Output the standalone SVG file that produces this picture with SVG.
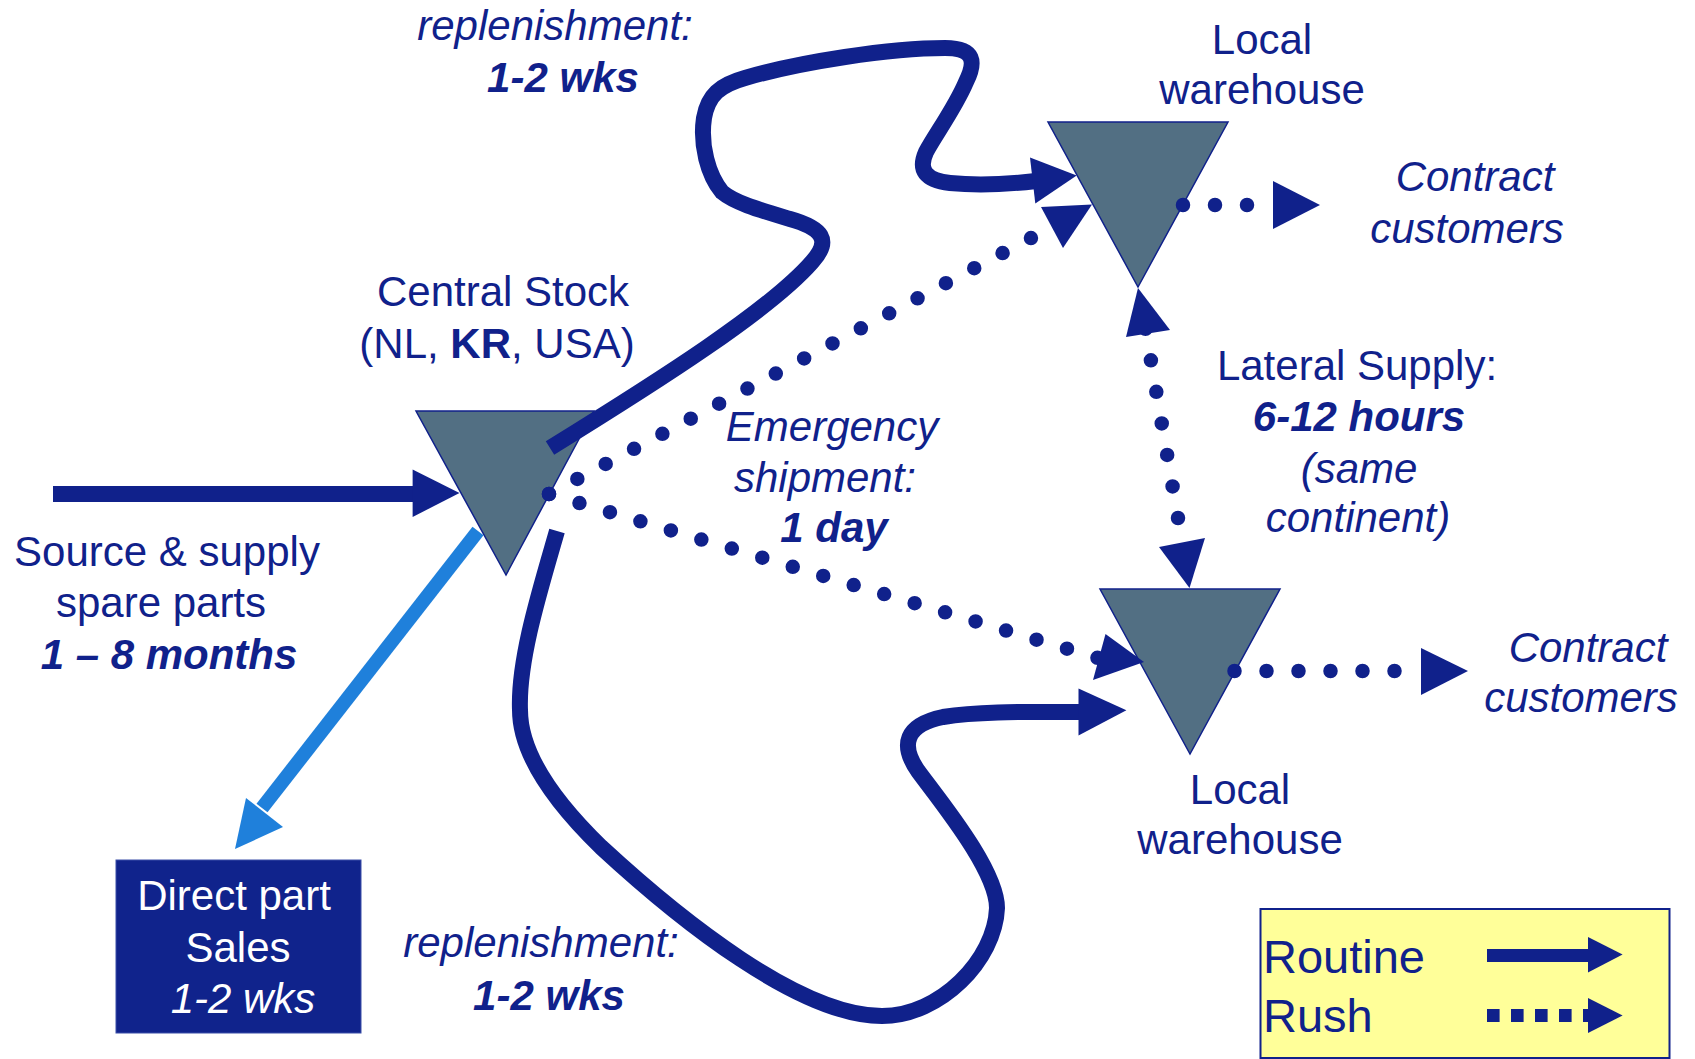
<svg xmlns="http://www.w3.org/2000/svg" width="1695" height="1059" viewBox="0 0 1695 1059">
<style>
text{font-family:"Liberation Sans",Arial,sans-serif;font-size:42px;fill:#10218B}
.m{text-anchor:middle}
.i{font-style:italic}
.b{font-weight:bold}
.w{fill:#FFFFFF}
.lg{font-size:47px}
.tri{fill:#526F83;stroke:#10218B;stroke-width:1.5}
.route{fill:none;stroke:#10218B;stroke-width:16}
.rush{fill:none;stroke:#10218B;stroke-width:14.5;stroke-linecap:round}
.head{fill:#10218B}
</style>
<rect width="1695" height="1059" fill="#FFFFFF"/>

<g id="central-stock">
<polygon class="tri" points="416,411 594,411 506,575"/>
<text class="m" x="503" y="306">Central Stock</text>
<text class="m" x="497" y="358">(NL, <tspan class="b">KR</tspan>, USA)</text>
</g>

<g id="local-warehouse-top">
<polygon class="tri" points="1048,122 1228,122 1138,287"/>
<text class="m" x="1262" y="54">Local</text>
<text class="m" x="1262" y="104">warehouse</text>
</g>

<g id="local-warehouse-bottom">
<polygon class="tri" points="1100,589 1280,589 1190,754"/>
<text class="m" x="1240" y="804">Local</text>
<text class="m" x="1240" y="854">warehouse</text>
</g>

<g id="source">
<text class="m" x="167" y="566">Source &amp; supply</text>
<text class="m" x="161" y="617">spare parts</text>
<text class="m i b" x="169" y="669">1 – 8 months</text>
</g>

<g id="direct-part-sales">
<rect x="116" y="860" width="245" height="173" fill="#10238C" stroke="#3A4FA8" stroke-width="1"/>
<text class="m w" x="234" y="910">Direct part</text>
<text class="m w" x="238" y="962">Sales</text>
<text class="m w i" x="243" y="1013">1-2 wks</text>
</g>

<g id="contract-top">
<text class="m i" x="1475" y="191">Contract</text>
<text class="m i" x="1467" y="243">customers</text>
</g>

<g id="contract-bottom">
<text class="m i" x="1588" y="662">Contract</text>
<text class="m i" x="1581" y="712">customers</text>
</g>

<g id="connectors">
<!-- source input -->
<line x1="53" y1="494" x2="414" y2="494" stroke="#10218B" stroke-width="16"/>
<polygon class="head" points="412.6,469.5 412.6,517 459.5,493"/>

<!-- direct sales (light blue) -->
<line x1="478" y1="531" x2="262" y2="808" stroke="#1F80DB" stroke-width="14"/>
<polygon points="246,798 283,827 235,849" fill="#1F80DB"/>

<!-- routine replenishment top -->
<path class="route" d="M550,448 C660,380 770,310 812,262 C832,240 822,228 790,219 C760,210 735,203 722,192 C708,175 700,145 704,118 C708,95 720,85 745,78 C800,62 890,48 945,48 C975,48 976,62 966,82 C955,108 935,135 926,152 C918,170 925,180 950,183 C980,186 1010,184 1036,181"/>
<polygon class="head" points="1030,157.5 1035.3,203.6 1076.7,175.5"/>

<!-- routine replenishment bottom -->
<path class="route" d="M557,531 C540,590 518,660 520,710 C520,760 565,812 601,847 C680,920 800,1016 882,1016 C940,1016 995,960 997,908 C997,870 940,801 918,771 C900,745 905,725 943,717 C980,711 1030,712 1080,712"/>
<polygon class="head" points="1078.5,688.6 1078.5,735.4 1126.4,710.2"/>

<!-- emergency shipments -->
<path class="rush" stroke-dasharray="0 32.1" d="M549,494 L1031,238"/>
<polygon class="head" points="1041,207 1092,204.5 1063,248"/>
<path class="rush" stroke-dasharray="0 31.8" d="M549,494 L1098,658"/>
<polygon class="head" points="1105.5,634 1093,680 1144,662"/>

<!-- lateral supply -->
<path class="rush" stroke-dasharray="0 32" d="M1178,518 L1145,326"/>
<polygon class="head" points="1138,288 1170,330 1126,337"/>
<polygon class="head" points="1159,547 1205,538 1189.5,588"/>

<!-- to contract customers -->
<path class="rush" stroke-dasharray="0 32" d="M1183,205 L1276,205"/>
<polygon class="head" points="1273,181 1273,229 1320,205"/>
<path class="rush" stroke-dasharray="0 32" d="M1234.5,671 L1426,671"/>
<polygon class="head" points="1421,648 1421,695 1468,671"/>
</g>

<g id="labels">
<text class="m i" x="555" y="40">replenishment:</text>
<text class="m i b" x="563" y="92">1-2 wks</text>
<text class="m i" x="541" y="957">replenishment:</text>
<text class="m i b" x="549" y="1010">1-2 wks</text>
<text class="m i" x="832" y="441">Emergency</text>
<text class="m i" x="825" y="492">shipment:</text>
<text class="m i b" x="834" y="542">1 day</text>
<text class="m" x="1357" y="380">Lateral Supply:</text>
<text class="m i b" x="1359" y="431">6-12 hours</text>
<text class="m i" x="1359" y="483">(same</text>
<text class="m i" x="1358" y="532">continent)</text>
</g>

<g id="legend">
<rect x="1260.5" y="909" width="409" height="149" fill="#FFFF99" stroke="#10218B" stroke-width="2"/>
<text class="lg" x="1263" y="973">Routine</text>
<text class="lg" x="1263" y="1032">Rush</text>
<rect x="1487" y="949" width="102" height="13" fill="#10218B"/>
<polygon class="head" points="1588,937 1588,972.5 1622.6,954.5"/>
<line x1="1487" y1="1015.5" x2="1590" y2="1015.5" stroke="#10218B" stroke-width="13" stroke-dasharray="12.6 11.4"/>
<polygon class="head" points="1588,998 1588,1033 1622.6,1015.5"/>
</g>
</svg>
